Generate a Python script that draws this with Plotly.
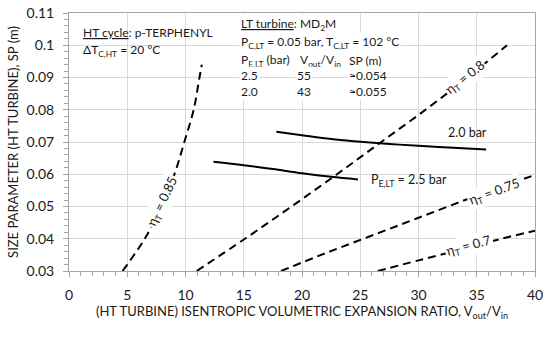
import plotly.graph_objects as go

# ---- data ----
eta085_x = [4.6, 6.5, 7.95, 9.05, 9.9, 10.7, 11.2, 11.4]
eta085_y = [0.03, 0.04, 0.05, 0.06, 0.07, 0.08, 0.09, 0.094]
eta080_x = [10.96, 15.1, 19.1, 23.0, 26.8, 30.6, 34.2, 37.6]
eta080_y = [0.03, 0.04, 0.05, 0.06, 0.07, 0.08, 0.09, 0.10]
eta075_x = [18.2, 22.0, 26.0, 30.0, 34.0, 37.0, 40.0]
eta075_y = [0.03, 0.0355, 0.041, 0.0465, 0.052, 0.056, 0.0598]
eta070_x = [26.5, 30.0, 34.0, 37.0, 40.0]
eta070_y = [0.03, 0.0333, 0.037, 0.0399, 0.0425]
pe25_x = [12.4, 15.0, 17.5, 20.0, 22.5, 24.8]
pe25_y = [0.0639, 0.0628, 0.0616, 0.0603, 0.0592, 0.0584]
pe20_x = [17.8, 20.0, 22.5, 25.0, 27.5, 30.0, 33.0, 35.8]
pe20_y = [0.0732, 0.0721, 0.0709, 0.0701, 0.0694, 0.0688, 0.0682, 0.0677]

lt_pe = ["2.5", "2.0"]
lt_ratio = ["55", "43"]
lt_sp = ["≈0.054", "≈0.055"]

x_ticks = [0, 5, 10, 15, 20, 25, 30, 35, 40]
y_ticks = [0.03, 0.04, 0.05, 0.06, 0.07, 0.08, 0.09, 0.1, 0.11]

FONT = "Lato"
TXT = "#1a1a1a"
DASH = "8px,5px"

fig = go.Figure()

for xs, ys in [(eta085_x, eta085_y), (eta080_x, eta080_y),
               (eta075_x, eta075_y), (eta070_x, eta070_y)]:
    fig.add_trace(go.Scatter(x=xs, y=ys, mode="lines",
                             line=dict(color="black", width=2, dash=DASH),
                             line_shape="spline", showlegend=False, hoverinfo="skip"))
for xs, ys in [(pe25_x, pe25_y), (pe20_x, pe20_y)]:
    fig.add_trace(go.Scatter(x=xs, y=ys, mode="lines",
                             line=dict(color="black", width=2),
                             line_shape="spline", showlegend=False, hoverinfo="skip"))

# white backgrounds of the text boxes
fig.add_shape(type="rect", x0=0.3, x1=12.3, y0=0.0954, y1=0.11, xref="x", yref="y",
              fillcolor="white", line_width=0, layer="below")
fig.add_shape(type="rect", x0=14.2, x1=27.4, y0=0.0828, y1=0.11, xref="x", yref="y",
              fillcolor="white", line_width=0, layer="below")

def ann(x, y, text, angle=0, xanchor="left", bg=None, size=12):
    fig.add_annotation(x=x, y=y, text=text, showarrow=False, textangle=angle,
                       xanchor=xanchor, yanchor="middle",
                       font=dict(family=FONT, size=size, color=TXT),
                       bgcolor=bg, borderpad=1)

# HT block
ann(1.0, 0.1040, "<u>HT cycle</u>: p-TERPHENYL")
ann(1.0, 0.0983, "ΔT<sub>C,HT</sub> = 20 °C")

# LT block
ann(14.6, 0.1063, "<u>LT turbine</u>: MD<sub>2</sub>M", bg="white")
ann(14.6, 0.1008, "P<sub>C,LT</sub> = 0.05 bar, T<sub>C,LT</sub> = 102 °C", bg="white")
ann(14.6, 0.0954, "P<sub>E,LT</sub> (bar)", bg="white")
ann(19.66, 0.0954, "V<sub>out</sub>/V<sub>in</sub>", bg="white")
ann(23.84, 0.0954, "SP (m)", bg="white")
for i, yy in enumerate([0.0905, 0.0856]):
    ann(14.6, yy, lt_pe[i], bg="white")
    ann(19.4, yy, lt_ratio[i], bg="white")
    ann(23.84, yy, lt_sp[i], bg="white")

# curve labels
ann(8.0, 0.0515, "η<sub>T</sub> = 0.85", angle=-65, xanchor="center", bg="white", size=13)
ann(34.0, 0.0898, "η<sub>T</sub> = 0.8", angle=-38, xanchor="center", bg="white", size=13)
ann(36.5, 0.0545, "η<sub>T</sub> = 0.75", angle=-20, xanchor="center", bg="white", size=13)
ann(34.3, 0.0378, "η<sub>T</sub> = 0.7", angle=-15, xanchor="center", bg="white", size=13)
ann(34.2, 0.0728, "2.0 bar", xanchor="center", size=12.5)
ann(25.75, 0.0582, "P<sub>E,LT</sub> = 2.5 bar", size=12.5)

axis_common = dict(showline=True, linecolor="#a6a6a6", linewidth=1, mirror=True,
                   showgrid=True, gridcolor="#d9d9d9", gridwidth=1, zeroline=False,
                   ticks="outside", ticklen=5, tickcolor="#a6a6a6", automargin=False,
                   tickfont=dict(family=FONT, size=14, color=TXT))

fig.update_xaxes(range=[0, 40], tickvals=x_ticks, ticklabelstandoff=6,
                 minor=dict(dtick=1, ticks="outside", ticklen=4, tickcolor="#a6a6a6", showgrid=False),
                 title=dict(text="(HT TURBINE) ISENTROPIC VOLUMETRIC EXPANSION RATIO, V<sub>out</sub>/V<sub>in</sub>",
                            font=dict(family=FONT, size=13, color=TXT), standoff=0),
                 **axis_common)
fig.update_yaxes(range=[0.03, 0.11], tickvals=y_ticks, ticktext=[f"{v:g}" for v in y_ticks],
                 ticklabelstandoff=6,
                 minor=dict(dtick=0.002, ticks="outside", ticklen=4, tickcolor="#a6a6a6", showgrid=False),
                 title=dict(text="SIZE PARAMETER (HT TURBINE), SP (m)",
                            font=dict(family=FONT, size=13, color=TXT), standoff=4),
                 **axis_common)

fig.update_layout(width=550, height=338, margin=dict(l=69, r=15, t=13, b=67),
                  font=dict(family=FONT, size=12, color=TXT),
                  paper_bgcolor="white", plot_bgcolor="white", showlegend=False)

# remove the browser's default 8 px body margin so the figure sits at the window origin
fig.write_html("out.html", config={"displayModeBar": False},
               post_script="document.body.style.margin='0';")
